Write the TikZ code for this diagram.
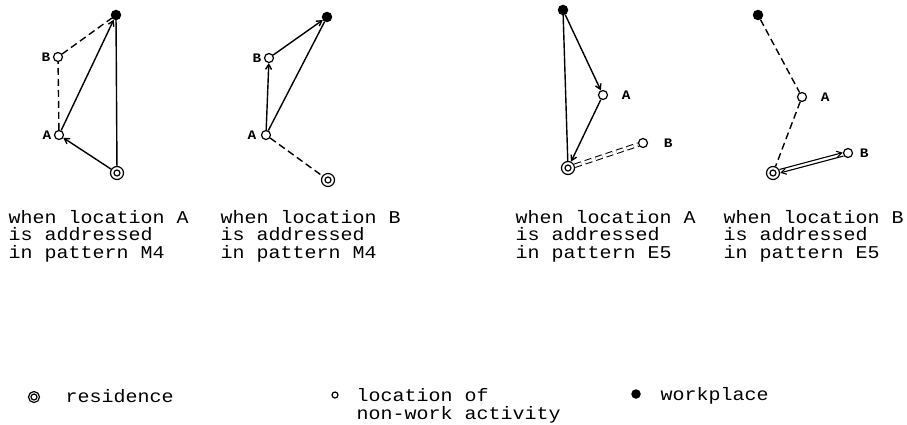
\documentclass[tikz,border=0pt]{standalone}
\usepackage{fontspec}
\newfontfamily\typew[FakeStretch=1.11]{Liberation Mono}
\usetikzlibrary{positioning,arrows.meta,calc}

\begin{document}
\begin{tikzpicture}[x=1pt, y=-1pt, >={Straight Barb[length=5pt,width=6pt]}, line width=1.4pt,
  loc/.style={draw,circle,minimum size=9pt,inner sep=0pt,fill=white,line width=1.2pt},
  work/.style={draw,circle,fill=black,minimum size=9pt,inner sep=0pt},
  res/.style={draw,circle,minimum size=13pt,inner sep=0pt,fill=white,line width=1.2pt,
    path picture={\draw[line width=1.2pt] (path picture bounding box.center) circle (3pt);}},
  lbl/.style={font=\typew\fontsize{13}{13}\selectfont\bfseries,inner sep=1pt},
  captxt/.style={font=\typew\fontsize{18}{17.5}\selectfont,align=left,anchor=base west,inner sep=0pt},
  trip/.style={dash pattern=on 7pt off 4pt}]
  \useasboundingbox (0,0) rectangle (907,424);
  % M4, A addressed
  \node[work] (w1) at (116,15) {};
  \node[loc] (b1) at (58,57) {};
  \node[loc] (a1) at (59,135) {};
  \node[res] (r1) at (117,173) {};
  \node[lbl,left=1pt of b1] (lb1) {B};
  \node[lbl,left=1pt of a1] (la1) {A};
  \draw[->] (r1) -- (a1); \draw[->] (a1) -- (w1); \draw (w1) -- (r1);
  \draw[trip] (a1) -- (b1); \draw[trip] (b1) -- (w1);
  % M4, B addressed
  \node[work] (w2) at (327,17) {};
  \node[loc] (b2) at (269,58) {};
  \node[loc] (a2) at (266,135) {};
  \node[res] (r2) at (328,180) {};
  \node[lbl,left=1pt of b2] (lb2) {B};
  \node[lbl,left=3pt of a2] (la2) {A};
  \draw[->] (a2) -- (b2); \draw[->] (b2) -- (w2); \draw (a2) -- (w2);
  \draw[trip] (a2) -- (r2);
  % E5, A addressed
  \node[work] (w3) at (563,10) {};
  \node[loc] (a3) at (603,95) {};
  \node[loc] (b3) at (643,143) {};
  \node[res] (r3) at (568,168) {};
  \node[lbl,right=12pt of a3] (la3) {A};
  \node[lbl,right=14pt of b3] (lb3) {B};
  \draw[->] (w3) -- (a3); \draw[->] (a3) -- (r3); \draw (w3) -- (r3);
  \draw[trip,double,double distance=2.5pt,line width=1pt] (r3) -- (b3);
  % E5, B addressed
  \node[work] (w4) at (758,15) {};
  \node[loc] (a4) at (802,97) {};
  \node[loc] (b4) at (848,153) {};
  \node[res] (r4) at (773,173) {};
  \node[lbl,right=12pt of a4] (la4) {A};
  \node[lbl,right=5pt of b4] (lb4) {B};
  \draw[trip] (w4) -- (a4); \draw[trip] (a4) -- (r4);
  \draw[->,line width=1.1pt,transform canvas={xshift=-0.4pt,yshift=1.7pt}] (r4) -- (b4);
  \draw[->,line width=1.1pt,transform canvas={xshift=0.4pt,yshift=-1.7pt}] (b4) -- (r4);
  % captions
  \node[captxt] (c1) at (8,258) {when location A\\is addressed\\in pattern M4};
  \node[captxt] (c2) at (220,258) {when location B\\is addressed\\in pattern M4};
  \node[captxt] (c3) at (515,258) {when location A\\is addressed\\in pattern E5};
  \node[captxt] (c4) at (723,258) {when location B\\is addressed\\in pattern E5};
  % legend
  \node[res,minimum size=11pt] (kr) at (34,397) {};
  \node[captxt] (tr) at (65,402) {residence};
  \node[loc,minimum size=6pt] (kl) at (335,395) {};
  \node[captxt] (tl) at (356,419) {location of\\non-work activity};
  \node[work,minimum size=8pt] (kw) at (636,394) {};
  \node[captxt] (tw) at (660,400) {workplace};
\end{tikzpicture}
\end{document}
